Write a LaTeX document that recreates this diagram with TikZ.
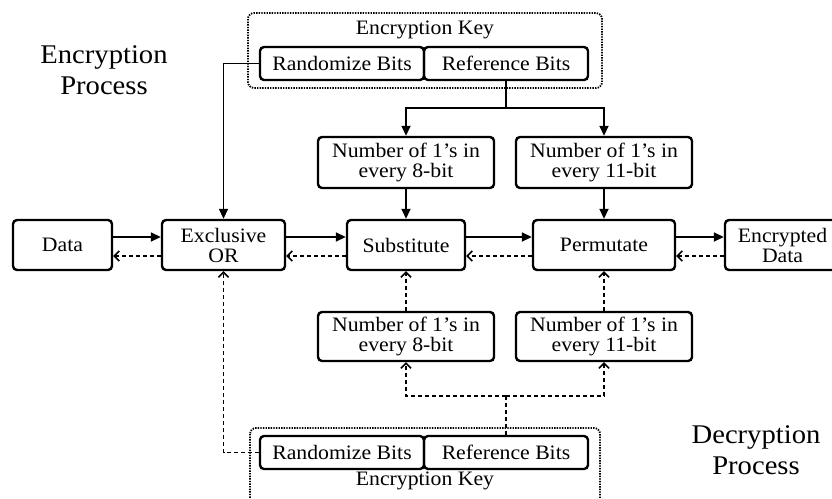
\documentclass[tikz,border=0pt]{standalone}
\usepackage{fontspec}
\setmainfont[FakeStretch=1.06]{Liberation Serif}
\usetikzlibrary{arrows.meta}
\begin{document}
\begin{tikzpicture}[x=1pt,y=-1pt,
  box/.style={draw, line width=2.4pt, rounded corners=4pt, inner sep=0pt,
    align=center, font=\fontsize{20.5}{20}\selectfont},
  bigbox/.style={box, minimum height=50pt},
  numbox/.style={box, minimum width=176pt, minimum height=50pt},
  keybox/.style={box, minimum width=164pt, minimum height=33pt},
  keyframe/.style={draw, line width=1.8pt, dash pattern=on 1.4pt off 1.2pt, rounded corners=6pt},
  fwd/.style={line width=1.7pt, -{Triangle[length=10pt,width=9pt]}},
  bwd/.style={line width=1.7pt, dash pattern=on 4pt off 3pt, -{Straight Barb[length=5pt,width=10pt,line width=1.6pt]}},
  plain/.style={line width=1.7pt},
  dplain/.style={line width=1.7pt, dash pattern=on 4pt off 3pt},
  title/.style={align=center, font=\fontsize{27}{31}\selectfont}
]
\useasboundingbox (0,0) rectangle (832,498);

% side titles
\node[title] (enctitle) at (104,70) {Encryption\\Process};
\node[title] (dectitle) at (756,450) {Decryption\\Process};

% main chain
\node[bigbox, minimum width=99pt]  (data) at (62.5,245) {Data};
\node[bigbox, minimum width=123pt] (xor)  at (223.5,245) {Exclusive\\OR};
\node[bigbox, minimum width=118pt] (sub)  at (406,245) {Substitute};
\node[bigbox, minimum width=142pt] (perm) at (604,245) {Permutate};
\node[bigbox, minimum width=115pt] (enc)  at (782.5,245) {Encrypted\\Data};

% encryption key (top)
\draw[keyframe] (248,13) rectangle (602,88);
\node[font=\fontsize{20.5}{20}\selectfont] (keyt) at (425,30) {Encryption Key};
\node[keybox] (rbt) at (342,63.5) {Randomize Bits};
\node[keybox] (rft) at (506,63.5) {Reference Bits};

% encryption key (bottom)
\draw[keyframe] (250,428) rectangle (600,512);
\node[font=\fontsize{20.5}{20}\selectfont] (keyb) at (425,481) {Encryption Key};
\node[keybox] (rbb) at (342,452.5) {Randomize Bits};
\node[keybox] (rfb) at (506,452.5) {Reference Bits};

% bit-count boxes
\node[numbox, minimum height=51pt] (nt1) at (406,162.5) {Number of 1’s in\\every 8-bit};
\node[numbox, minimum height=51pt] (nt2) at (604,162.5) {Number of 1’s in\\every 11-bit};
\node[numbox, minimum height=49pt] (nb1) at (406,336.5) {Number of 1’s in\\every 8-bit};
\node[numbox, minimum height=49pt] (nb2) at (604,336.5) {Number of 1’s in\\every 11-bit};

% encryption connectors
\draw[fwd] (rbt.west) -| (xor.north);
\coordinate (tsplit) at (506,108);
\draw[plain] (rft.south) -- (tsplit);
\draw[fwd] (tsplit) -| (nt1.north);
\draw[fwd] (tsplit) -| (nt2.north);
\draw[fwd] (nt1.south) -- (sub.north);
\draw[fwd] (nt2.south) -- (perm.north);
\draw[fwd] ([yshift=8pt]data.east) -- ([yshift=8pt]xor.west);
\draw[fwd] ([yshift=8pt]xor.east) -- ([yshift=8pt]sub.west);
\draw[fwd] ([yshift=8pt]sub.east) -- ([yshift=8pt]perm.west);
\draw[fwd] ([yshift=8pt]perm.east) -- ([yshift=8pt]enc.west);

% decryption connectors
\draw[bwd] ([yshift=-11pt]enc.west) -- ([yshift=-11pt]perm.east);
\draw[bwd] ([yshift=-11pt]perm.west) -- ([yshift=-11pt]sub.east);
\draw[bwd] ([yshift=-11pt]sub.west) -- ([yshift=-11pt]xor.east);
\draw[bwd] ([yshift=-11pt]xor.west) -- ([yshift=-11pt]data.east);
\draw[bwd] (nb1.north) -- (sub.south);
\draw[bwd] (nb2.north) -- (perm.south);
\coordinate (bsplit) at (506,396);
\draw[dplain] (rfb.north) -- (bsplit);
\draw[bwd] (bsplit) -| (nb1.south);
\draw[bwd] (bsplit) -| (nb2.south);
\draw[bwd] (rbb.west) -| (xor.south);
\end{tikzpicture}
\end{document}
